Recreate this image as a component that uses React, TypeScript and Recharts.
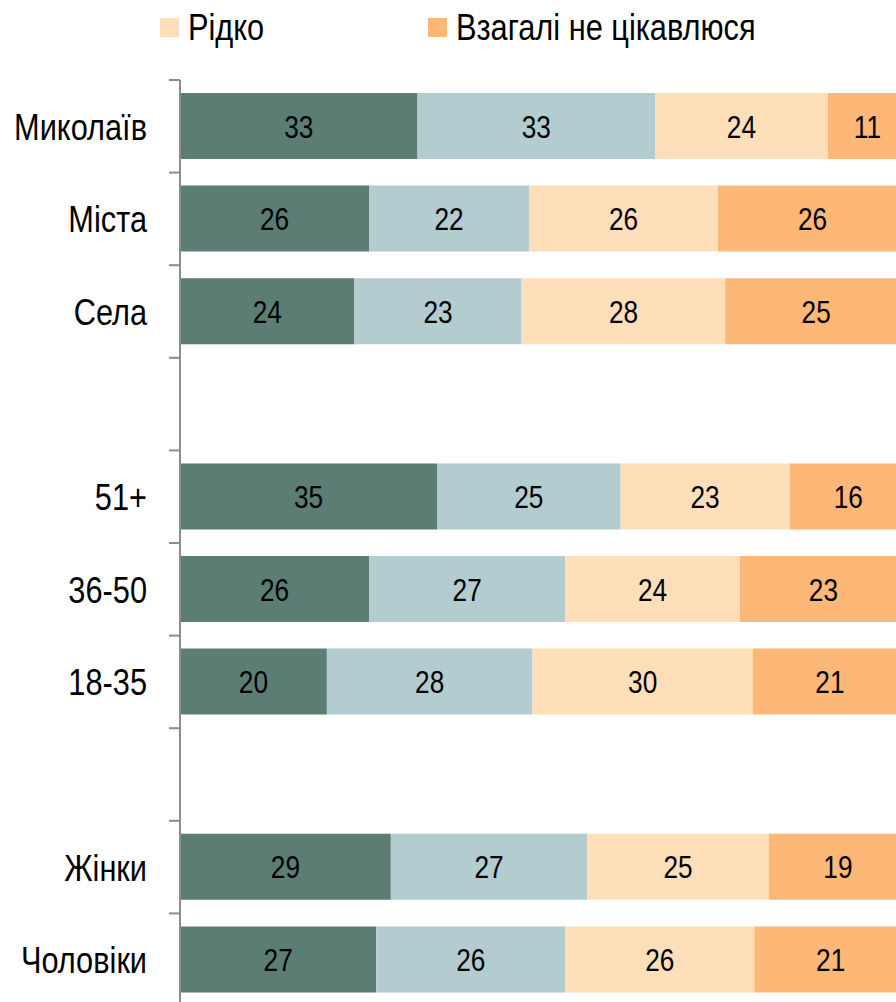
import { BarChart, Bar, XAxis, YAxis, LabelList } from 'recharts'

const categories = ['Миколаїв', 'Міста', 'Села', '', '51+', '36-50', '18-35', '', 'Жінки', 'Чоловіки']

// first two series are outside the visible crop, only the last two show in the legend
const seriesNames = ['Постійно', 'Іноді', 'Рідко', 'Взагалі не цікавлюся']
const seriesColors = ['#5B7D74', '#B2CCD0', '#FFDFB9', '#FDB776']
const legendShown = [2, 3]

const often = [33, 26, 24, null, 35, 26, 20, null, 29, 27]
const sometimes = [33, 22, 23, null, 25, 27, 28, null, 27, 26]
const rarely = [24, 26, 28, null, 23, 24, 30, null, 25, 26]
const never = [11, 26, 25, null, 16, 23, 21, null, 19, 21]

const values = [often, sometimes, rarely, never]

const data = categories.map((name, i) => {
  const row: Record<string, string | number | null> = { name }
  seriesNames.forEach((s, k) => {
    row[s] = values[k][i]
  })
  return row
})

// no Arial Narrow here, so squeeze Liberation Sans horizontally
const FONT = "'Liberation Sans', Arial, sans-serif"
const SQUEEZE = 0.82
const BAND = 92.6

function CategoryTick(props: any) {
  const { x, y, payload } = props
  return (
    <g>
      <line x1={x - 3} x2={x + 8} y1={y - BAND / 2} y2={y - BAND / 2} stroke="#8C8C8C" strokeWidth={2} />
      <text
        transform={`translate(${x - 25},${y}) scale(${SQUEEZE},1)`}
        dy="0.36em"
        textAnchor="end"
        fontSize={37.5}
        fontFamily={FONT}
        fill="#000"
      >
        {payload.value}
      </text>
    </g>
  )
}

function BarLabel(props: any) {
  const { x, y, width, height, value } = props
  if (value == null || !width) return null
  return (
    <text
      transform={`translate(${x + width / 2},${y + height / 2}) scale(${SQUEEZE},1)`}
      dy="0.36em"
      textAnchor="middle"
      fontSize={32}
      fontFamily={FONT}
      fill="#000"
    >
      {value}
    </text>
  )
}

export default function App() {
  return (
    <div style={{ position: 'fixed', left: 0, top: 0, width: 896, height: 1002, overflow: 'hidden', background: '#fff' }}>
      {legendShown.map((k, j) => (
        <div
          key={k}
          style={{
            position: 'absolute',
            left: 160 + j * 268,
            top: 7,
            height: 40,
            display: 'flex',
            alignItems: 'center',
            fontFamily: FONT,
            fontSize: 37.5,
            whiteSpace: 'nowrap',
          }}
        >
          <span style={{ width: 19, height: 19, background: seriesColors[k], marginRight: 9, display: 'inline-block' }} />
          <span style={{ display: 'inline-block', transform: `scaleX(${SQUEEZE})`, transformOrigin: 'left center' }}>
            {seriesNames[k]}
          </span>
        </div>
      ))}
      <BarChart
        width={907}
        height={1006}
        data={data}
        layout="vertical"
        stackOffset="expand"
        barSize={66}
        margin={{ top: 80, right: 0, left: 0, bottom: 0 }}
        style={{ position: 'absolute', top: 0, left: 0 }}
      >
        <XAxis type="number" hide domain={[0, 1]} />
        <YAxis
          type="category"
          dataKey="name"
          width={180}
          axisLine={{ stroke: '#8C8C8C', strokeWidth: 2 }}
          tickLine={false}
          tick={<CategoryTick />}
          interval={0}
        />
        {seriesNames.map((s, k) => (
          <Bar key={s} dataKey={s} stackId="a" fill={seriesColors[k]} isAnimationActive={false}>
            <LabelList dataKey={s} content={<BarLabel />} />
          </Bar>
        ))}
      </BarChart>
    </div>
  )
}
